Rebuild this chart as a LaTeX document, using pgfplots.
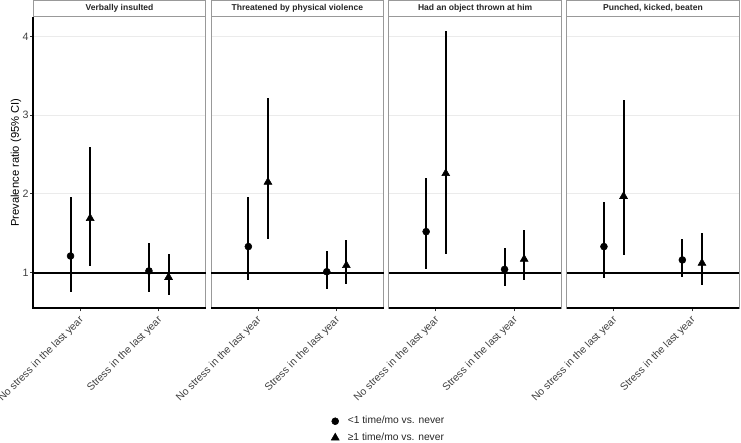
\documentclass[border=0pt]{standalone}
\usepackage{fontspec}
\setmainfont{Liberation Sans}
\usepackage{pgfplots}
\pgfplotsset{compat=1.18}
\usepackage{pgfplotstable}

% x: category position (1 = No stress, 2 = Stress) with dodge; y: ratio; lo/hi: 95% CI
\pgfplotstableread{
x y lo hi
0.875 1.21 0.75 1.955
1.875 1.02 0.75 1.38
}\pAcirc
\pgfplotstableread{
x y lo hi
1.125 1.69 1.08 2.59
2.125 0.94 0.71 1.23
}\pAtri
\pgfplotstableread{
x y lo hi
0.875 1.33 0.90 1.955
1.875 1.01 0.79 1.28
}\pBcirc
\pgfplotstableread{
x y lo hi
1.125 2.15 1.42 3.22
2.125 1.09 0.85 1.41
}\pBtri
\pgfplotstableread{
x y lo hi
0.875 1.52 1.05 2.20
1.875 1.04 0.83 1.31
}\pCcirc
\pgfplotstableread{
x y lo hi
1.125 2.26 1.24 4.07
2.125 1.17 0.90 1.54
}\pCtri
\pgfplotstableread{
x y lo hi
0.875 1.33 0.93 1.90
1.875 1.16 0.94 1.43
}\pDcirc
\pgfplotstableread{
x y lo hi
1.125 1.97 1.22 3.20
2.125 1.12 0.84 1.50
}\pDtri

\pgfplotsset{
  panel/.style={
    scale only axis, width=129.375pt, height=218.5pt,
    anchor=south west,
    xmin=0.4, xmax=2.6, ymin=0.545, ymax=4.25,
    xtick={1,2},
    xticklabels={No stress in the last year, Stress in the last year},
    ytick={1,2,3,4},
    xtick pos=left, ytick pos=left,
    tick align=outside, major tick length=2.25pt,
    tick style={black!80, line width=0.8pt},
    ymajorgrids, grid style={black!8, line width=0.6pt},
    axis line style={black!40, line width=0.8pt},
    x tick label style={rotate=45, anchor=north east, yshift=2.5pt, xshift=0.5pt,
      font=\fontsize{7.85}{9.4}\selectfont, text=black!75},
    y tick label style={font=\fontsize{8}{9.6}\selectfont, text=black!75, xshift=2.2pt},
    /pgf/number format/assume math mode=true,
    clip=false,
    every axis title shift=0pt,
    title style={at={(0.5,1)}, anchor=south, yshift=0pt, draw=black!40, line width=0.8pt,
      fill=white, minimum width=129.375pt, minimum height=11.8pt, inner sep=0pt,
      font=\bfseries\fontsize{6.4}{7.5}\selectfont, text=black!85},
  },
  circ/.style={only marks, mark=*, mark size=2.6pt, black,
    error bars/.cd, y dir=both, y explicit, error mark=none,
    error bar style={line width=1.5pt, black}},
  tri/.style={only marks, mark=triangle*, mark size=3.4pt, black,
    error bars/.cd, y dir=both, y explicit, error mark=none,
    error bar style={line width=1.5pt, black}},
  refline/.style={black, line width=1.5pt, forget plot},
}
\newcommand{\ciplot}[2]{\addplot[#1] table[x=x, y=y,
  y error plus expr=\thisrow{hi}-\thisrow{y},
  y error minus expr=\thisrow{y}-\thisrow{lo}] {#2};}

\begin{document}
\begin{tikzpicture}
% Panel 1
\begin{axis}[panel, at={(24.975pt,100.275pt)},
  title={Verbally insulted},
  ylabel={Prevalence ratio (95\% CI)},
  ylabel style={at={(axis description cs:-0.100,0.5)}, anchor=center, font=\fontsize{8.4}{10}\selectfont, text=black},
  legend style={at={(axis description cs:2.061,-0.416)}, anchor=center, draw=none, fill=none,
    font=\fontsize{7.7}{9.2}\selectfont, text=black!85, row sep=2.3pt, nodes={inner sep=1.5pt},
    /tikz/every odd column/.append style={column sep=5pt}},
  legend cell align=left]
\addplot[refline] coordinates {(0.4,1) (2.6,1)};
\ciplot{circ}{\pAcirc}
\ciplot{tri}{\pAtri}
\draw[black, line width=1.2pt] (rel axis cs:0,1) -- (rel axis cs:0,0) -- (rel axis cs:1,0);
\addlegendentry{<1 time/mo vs. never}
\addlegendentry{≥1 time/mo vs. never}
\end{axis}
% Panel 2
\begin{axis}[panel, at={(158.325pt,100.275pt)},
  title={Threatened by physical violence},
  yticklabels={}, y tick style={draw=none}]
\addplot[refline] coordinates {(0.4,1) (2.6,1)};
\ciplot{circ}{\pBcirc}
\ciplot{tri}{\pBtri}
\draw[black, line width=1.2pt] (rel axis cs:0,0) -- (rel axis cs:1,0);
\end{axis}
% Panel 3
\begin{axis}[panel, at={(291.675pt,100.275pt)},
  title={Had an object thrown at him},
  yticklabels={}, y tick style={draw=none}]
\addplot[refline] coordinates {(0.4,1) (2.6,1)};
\ciplot{circ}{\pCcirc}
\ciplot{tri}{\pCtri}
\draw[black, line width=1.2pt] (rel axis cs:0,0) -- (rel axis cs:1,0);
\end{axis}
% Panel 4
\begin{axis}[panel, at={(425.025pt,100.275pt)},
  title={Punched, kicked, beaten},
  yticklabels={}, y tick style={draw=none}]
\addplot[refline] coordinates {(0.4,1) (2.6,1)};
\ciplot{circ}{\pDcirc}
\ciplot{tri}{\pDtri}
\draw[black, line width=1.2pt] (rel axis cs:0,0) -- (rel axis cs:1,0);
\end{axis}
\pgfresetboundingbox
\path[use as bounding box] (0,0) rectangle (555.75pt,331.5pt);
\end{tikzpicture}
\end{document}
